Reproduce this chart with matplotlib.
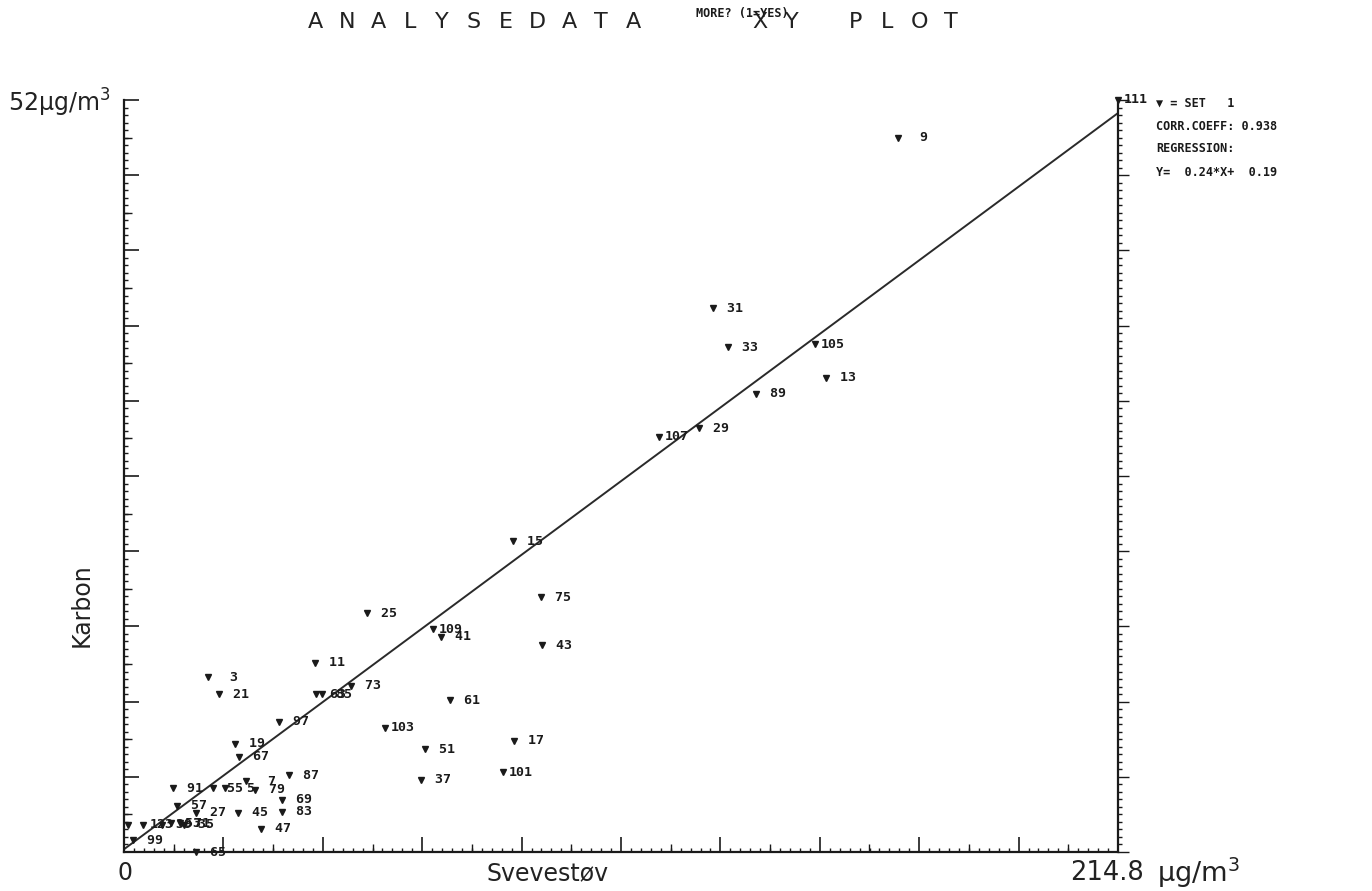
import numpy as np
import matplotlib.pyplot as plt

# sample ids and values (Svevestøv on x, Karbon on y)
ids = [9, 111, 31, 33, 105, 13, 89, 107, 29, 15, 75, 25, 109, 41, 43, 11,
       3, 21, 63, 85, 73, 61, 97, 103, 51, 17, 37, 101, 87, 19, 67, 91,
       47, 65, 99, 45, 83,
       7, 79, 69, 55, 5, 57, 27, 1, 23, 39, 53, 71, 35]
svevestov = [167.3, 214.8, 127.3, 130.5, 149.3, 151.7, 136.6, 115.6, 124.3,
             84.1, 90.1, 52.5, 66.8, 68.5, 90.3, 41.3, 18.2, 20.5, 41.5,
             42.8, 49.1, 70.4, 33.5, 56.4, 65.0, 84.3, 64.2, 81.9, 35.7,
             24.0, 24.9, 10.6, 29.6, 15.6, 1.9, 24.6, 34.1,
             26.4, 28.3, 34.1, 19.2, 21.8, 11.5, 15.6, 0.9, 4.1, 8.2, 10.2,
             12.1, 13.0]
karbon = [49.4, 52.0, 37.6, 34.9, 35.1, 32.8, 31.7, 28.7, 29.3, 21.5, 17.6,
          16.5, 15.4, 14.9, 14.3, 13.1, 12.1, 10.9, 10.9, 10.9, 11.5, 10.5,
          9.0, 8.6, 7.1, 7.7, 5.0, 5.5, 5.3, 7.5, 6.6, 4.4, 1.6, 0.0, 0.8,
          2.7, 2.8,
          4.9, 4.3, 3.6, 4.4, 4.4, 3.2, 2.7, 1.9, 1.9, 1.9, 2.0, 2.0, 1.9]

x_max = 214.8
y_max = 52.0
corr_coeff = 0.938
slope = 0.237
intercept = 0.19

W, H = 1372, 891
fig = plt.figure(figsize=(W / 100, H / 100), dpi=100)
ax = fig.add_axes([124 / W, 1 - 852 / H, 994 / W, 752 / H])

ink = '#1a1a1a'
mono = 'DejaVu Sans Mono'

# regression line
xl = np.array([0, x_max])
ax.plot(xl, slope * xl + intercept, color='#2a2a2a', lw=1.4, zorder=2)

# points with their id labels
ax.plot(svevestov, karbon, ls='none', marker='v', ms=5, color=ink,
        clip_on=False, zorder=3)
for n, x, y in zip(ids, svevestov, karbon):
    ax.annotate('%3d' % n, (x, y), xytext=(6, 0), textcoords='offset pixels',
                ha='left', va='center', fontsize=9.5, fontweight='bold',
                family=mono, color=ink, annotation_clip=False)

ax.set_xlim(0, x_max)
ax.set_ylim(0, y_max)
ax.spines['top'].set_visible(False)
for s in ['left', 'bottom', 'right']:
    ax.spines[s].set_linewidth(1.6)
    ax.spines[s].set_color(ink)

ax.set_xticks(np.linspace(0, x_max, 11))
ax.set_xticks(np.linspace(0, x_max, 101), minor=True)
ax.set_yticks(np.linspace(0, y_max, 11))
ax.set_yticks(np.linspace(0, y_max, 101), minor=True)
ax.tick_params(which='major', direction='in', length=11, width=1.2,
               color=ink, labelbottom=False, labelleft=False)
ax.tick_params(which='minor', direction='in', length=3, width=1.0,
               color=ink)

# medium ticks at half divisions
half_x = np.linspace(0, x_max, 21)[1::2]
half_y = np.linspace(0, y_max, 21)[1::2]
sx = ax.secondary_xaxis('bottom')
sx.set_xticks(half_x)
sx.tick_params(direction='in', length=6, width=1.0, color=ink,
               labelbottom=False)
sx.spines['bottom'].set_visible(False)
sy = ax.secondary_yaxis('left')
sy.set_yticks(half_y)
sy.tick_params(direction='in', length=6, width=1.0, color=ink,
               labelleft=False)
sy.spines['left'].set_visible(False)

# right axis ticks point outward
ry = ax.secondary_yaxis('right')
ry.set_yticks(np.linspace(0, y_max, 11))
ry.set_yticks(np.linspace(0, y_max, 101), minor=True)
ry.tick_params(which='major', direction='out', length=8, width=1.0,
               color=ink, labelright=False)
ry.tick_params(which='minor', direction='out', length=3, width=1.0,
               color=ink)
ry.spines['right'].set_visible(False)


def px(x, y):
    return x / W, 1 - y / H


# axis texts
lab = dict(family='DejaVu Sans', color='#222222')
fig.text(*px(8, 103), '52\u00b5g/m$^3$', ha='left', va='center',
         fontsize=17, **lab)
fig.text(*px(82, 605), 'Karbon', ha='center', va='center', rotation=90,
         fontsize=17, **lab)
fig.text(*px(125, 873), '0', ha='center', va='center', fontsize=17, **lab)
fig.text(*px(548, 873), 'Svevest\u00f8v', ha='center', va='center',
         fontsize=17, **lab)
fig.text(*px(1070, 873), '214.8', ha='left', va='center', fontsize=18.5,
         **lab)
fig.text(*px(1157, 873), '\u00b5g/m$^3$', ha='left', va='center',
         fontsize=19.5, **lab)

# title, one letter at a time on a fixed pitch
title = 'ANALYSEDATA   XY PLOT'
for i, ch in enumerate(title):
    if ch != ' ':
        fig.text(*px(315 + 31.8 * i, 22), ch, ha='center', va='center',
                 fontsize=16, **lab)
fig.text(*px(696, 13), 'MORE? (1=YES)', ha='left', va='center',
         fontsize=8.5, fontweight='bold', family=mono, color=ink)

# legend / regression block
info = ['\u25bc = SET   1',
        'CORR.COEFF: %.3f' % corr_coeff,
        'REGRESSION:',
        'Y=  %.2f*X+  %.2f' % (0.24, intercept)]
for i, line in enumerate(info):
    fig.text(*px(1156, 103 + 23 * i), line, ha='left', va='center',
             fontsize=8.5, fontweight='bold', family=mono, color=ink)

fig.savefig('out.png', dpi=100)
